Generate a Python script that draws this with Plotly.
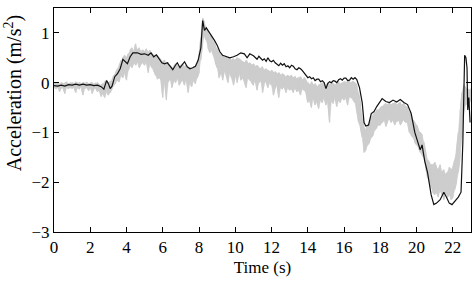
import plotly.graph_objects as go

# ---- data ----
black_t = [0.0, 0.2, 0.4, 0.6, 0.8, 1.0, 1.2, 1.4, 1.6, 1.8, 2.0, 2.2, 2.4, 2.6, 2.75, 2.9, 3.0, 3.1, 3.2,
           3.35, 3.5, 3.65, 3.8, 3.95, 4.05, 4.2, 4.35, 4.6, 4.8, 5.0, 5.2, 5.35, 5.5, 5.65, 5.8, 5.95,
           6.1, 6.25, 6.4, 6.55, 6.7, 6.8, 6.95, 7.1, 7.2, 7.35, 7.5, 7.65, 7.8, 7.95, 8.1, 8.2, 8.3,
           8.4, 8.55, 8.7, 8.85, 9.0, 9.15, 9.3, 9.5, 9.7, 9.9, 10.1, 10.3, 10.5, 10.65, 10.8, 11.0,
           11.1, 11.2, 11.3, 11.4, 11.5, 11.6, 11.7, 11.8, 11.9, 12.0, 12.1, 12.2, 12.3, 12.4, 12.5,
           12.6, 12.7, 12.8, 12.9, 13.0, 13.1, 13.2, 13.3, 13.4, 13.5, 13.6, 13.7, 13.8, 13.9, 14.0,
           14.1, 14.2, 14.3, 14.4, 14.5, 14.6, 14.7, 14.8, 14.9, 15.0, 15.1, 15.2, 15.3, 15.4, 15.5,
           15.6, 15.7, 15.8, 15.9, 16.0, 16.1, 16.2, 16.3, 16.4, 16.5, 16.6, 16.7, 16.85,
           17.0, 17.1, 17.2, 17.35, 17.5, 17.65, 17.8, 18.0, 18.1, 18.3, 18.5, 18.7, 18.9, 19.1, 19.3,
           19.5, 19.7, 19.9, 20.05, 20.2, 20.3, 20.45, 20.6, 20.8, 20.95, 21.1, 21.3, 21.5, 21.65,
           21.8, 21.95, 22.1, 22.3, 22.45, 22.55, 22.65, 22.72, 22.78, 22.82, 22.88, 22.95]
black_y = [-0.06, -0.07, -0.05, -0.07, -0.04, -0.05, -0.03, -0.05, -0.03, -0.05, -0.04, -0.06, -0.05,
           -0.08, -0.13, 0.04, -0.02, -0.12, -0.07, 0.12, 0.18, 0.28, 0.47, 0.42, 0.38, 0.52, 0.6,
           0.6, 0.57, 0.58, 0.55, 0.6, 0.52, 0.56, 0.48, 0.4, 0.38, 0.4, 0.33, 0.26, 0.35, 0.4, 0.3,
           0.37, 0.42, 0.32, 0.28, 0.3, 0.33, 0.45, 0.7, 1.25, 1.05, 1.1, 1.02, 0.93, 0.85, 0.75,
           0.62, 0.55, 0.52, 0.5, 0.52, 0.55, 0.6, 0.58, 0.5, 0.58, 0.54,
           0.5, 0.47, 0.53, 0.49, 0.45, 0.48, 0.43, 0.5, 0.44, 0.42, 0.45, 0.4, 0.36, 0.34, 0.39,
           0.35, 0.38, 0.32, 0.34, 0.3, 0.35, 0.33, 0.28, 0.26, 0.3, 0.28, 0.24, 0.2, 0.16, 0.1,
           0.12, 0.08, 0.1, 0.04, 0.07, 0.07, 0.02, 0.04, 0.0, -0.12, -0.02, 0.02, 0.0, 0.04, 0.03,
           0.0, 0.06, 0.08, 0.05, 0.09, 0.09, 0.04, 0.05, 0.1, 0.07, 0.1, 0.06, -0.1,
           -0.4, -0.8, -0.87, -0.85, -0.62, -0.58, -0.48, -0.38, -0.32, -0.38, -0.4, -0.35, -0.39,
           -0.34, -0.4, -0.44, -0.62, -1.0, -1.2, -1.35, -1.25, -1.58, -1.8, -2.25, -2.45, -2.42,
           -2.35, -2.2, -2.3, -2.42, -2.45, -2.38, -2.3, -2.2, -1.2, 0.55, 0.5, 0.3, -0.55, -0.3, -0.8]

gray_t = [round(i * 0.1, 1) for i in range(231)]
gray_hi = [
    -0.02, 0.00, -0.01, -0.03, 0.00, -0.02, -0.01, 0.01, -0.02, -0.01,
    0.00, -0.02, 0.01, -0.01, 0.00, -0.02, 0.00, -0.01, 0.01, -0.02,
    -0.01, 0.00, -0.03, -0.01, 0.00, -0.04, -0.05, -0.02, 0.02, 0.05,
    0.00, 0.02, 0.05, 0.15, 0.20, 0.28, 0.35, 0.45, 0.50, 0.55,
    0.50, 0.58, 0.65, 0.70, 0.62, 0.78, 0.65, 0.70, 0.62, 0.66,
    0.62, 0.68, 0.60, 0.65, 0.58, 0.55, 0.52, 0.55, 0.50, 0.45,
    0.42, 0.45, 0.38, 0.40, 0.35, 0.30, 0.32, 0.38, 0.35, 0.30,
    0.35, 0.38, 0.32, 0.35, 0.28, 0.30, 0.25, 0.32, 0.30, 0.40,
    0.55, 0.90, 1.30, 1.20, 1.10, 1.00, 0.95, 0.90, 0.82, 0.75,
    0.68, 0.60, 0.58, 0.55, 0.50, 0.52, 0.48, 0.50, 0.45, 0.48,
    0.45, 0.50, 0.48, 0.45, 0.42, 0.40, 0.45, 0.38, 0.40, 0.35,
    0.38, 0.32, 0.35, 0.30, 0.28, 0.32, 0.25, 0.28, 0.25, 0.22,
    0.25, 0.20, 0.22, 0.18, 0.20, 0.15, 0.18, 0.15, 0.12, 0.15,
    0.12, 0.15, 0.10, 0.12, 0.08, 0.10, 0.12, 0.05, 0.10, 0.05,
    0.00, -0.05, 0.02, -0.05, -0.02, -0.08, -0.05, -0.03, 0.00, -0.05,
    -0.08, 0.00, -0.05, 0.02, -0.02, -0.05, 0.00, 0.02, -0.03, 0.00,
    0.02, 0.00, 0.05, 0.02, 0.00, 0.03, 0.00, -0.05, -0.20, -0.40,
    -0.70, -0.90, -0.95, -0.85, -0.80, -0.70, -0.65, -0.60, -0.55, -0.55,
    -0.50, -0.48, -0.45, -0.42, -0.45, -0.40, -0.45, -0.42, -0.40, -0.45,
    -0.42, -0.40, -0.45, -0.42, -0.48, -0.50, -0.60, -0.68, -0.75, -0.80,
    -0.85, -0.95, -1.00, -1.05, -1.20, -1.40, -1.55, -1.60, -1.65, -1.65,
    -1.60, -1.70, -1.75, -1.65, -1.80, -1.75, -1.85, -1.80, -1.70, -1.75,
    -1.70, -1.55, -1.35, -1.00, -0.60, -0.20, -0.05, -0.10, -0.12, -0.15,
    -0.12]
gray_lo = [
    -0.10, -0.12, -0.09, -0.18, -0.10, -0.11, -0.22, -0.09, -0.12, -0.10,
    -0.11, -0.09, -0.20, -0.10, -0.12, -0.09, -0.25, -0.11, -0.10, -0.16,
    -0.10, -0.22, -0.12, -0.11, -0.18, -0.15, -0.28, -0.22, -0.30, -0.18,
    -0.25, -0.20, -0.12, -0.05, 0.00, 0.05, 0.02, 0.15, 0.10, 0.20,
    0.05, 0.25, 0.35, 0.30, 0.40, 0.35, 0.42, 0.30, 0.38, 0.40,
    0.35, 0.42, 0.20, 0.38, 0.30, 0.25, 0.15, 0.08, 0.10, 0.05,
    -0.30, 0.05, -0.35, 0.02, 0.08, -0.10, 0.05, 0.00, 0.10, -0.05,
    0.02, 0.05, -0.05, 0.08, -0.20, 0.00, -0.08, 0.05, -0.02, 0.10,
    0.20, 0.45, 0.80, 0.95, 0.85, 0.70, 0.60, 0.65, 0.55, 0.40,
    0.30, 0.10, 0.20, 0.05, 0.25, 0.15, 0.00, 0.20, 0.10, -0.05,
    0.15, 0.00, 0.20, 0.05, 0.10, 0.02, -0.10, 0.10, 0.05, 0.00,
    -0.05, 0.05, -0.15, 0.00, 0.05, -0.20, 0.00, 0.02, -0.10, 0.00,
    -0.05, -0.25, -0.10, -0.05, -0.30, -0.10, -0.12, -0.08, -0.20, -0.10,
    -0.15, -0.12, -0.20, -0.10, -0.18, -0.15, -0.25, -0.12, -0.15, -0.20,
    -0.40, -0.35, -0.50, -0.30, -0.45, -0.38, -0.52, -0.35, -0.40, -0.30,
    -0.45, -0.38, -0.80, -0.35, -0.42, -0.30, -0.48, -0.35, -0.40, -0.30,
    -0.35, -0.30, -0.45, -0.28, -0.30, -0.35, -0.40, -0.55, -0.80, -0.90,
    -1.10, -1.40, -1.35, -1.25, -1.20, -1.10, -1.05, -0.95, -0.90, -0.85,
    -0.85, -0.80, -0.75, -0.88, -0.78, -0.72, -0.80, -0.75, -0.85, -0.78,
    -0.75, -0.85, -0.78, -0.75, -0.80, -0.80, -1.00, -1.05, -1.10, -1.20,
    -1.25, -1.30, -1.40, -1.45, -1.50, -1.70, -1.90, -2.00, -2.10, -2.20,
    -2.25, -2.20, -2.30, -2.15, -2.25, -2.35, -2.20, -2.30, -2.25, -2.35,
    -2.30, -2.15, -2.00, -1.80, -1.50, -1.10, -0.60, -0.45, -0.40, -0.42,
    -0.32]

x_ticks = [0, 2, 4, 6, 8, 10, 12, 14, 16, 18, 20, 22]
y_ticks = [-3, -2, -1, 0, 1]
y_tick_text = ["\u22123", "\u22122", "\u22121", "0", "1"]

# zig-zag through the gray envelope (vertical strokes at each sample)
zx, zy = [], []
for i, t in enumerate(gray_t):
    a, b = (gray_lo[i], gray_hi[i]) if i % 2 == 0 else (gray_hi[i], gray_lo[i])
    zx += [t, t]
    zy += [a, b]

# filled core of the gray band
band_x = gray_t + gray_t[::-1]
band_y = gray_hi + gray_lo[::-1]

font = "Liberation Serif, Times New Roman, serif"
GRAY = "#cdcdcd"

fig = go.Figure()
fig.add_trace(go.Scatter(x=band_x, y=band_y, mode="lines", fill="toself", fillcolor=GRAY,
                         line=dict(color=GRAY, width=0.5), hoverinfo="skip"))
fig.add_trace(go.Scatter(x=zx, y=zy, mode="lines",
                         line=dict(color=GRAY, width=1.2), hoverinfo="skip"))
fig.add_trace(go.Scatter(x=black_t, y=black_y, mode="lines",
                         line=dict(color="#111111", width=1.2)))

axis_common = dict(showline=True, linecolor="black", linewidth=1, mirror="allticks",
                   ticks="inside", ticklen=5, tickcolor="black", showgrid=False,
                   zeroline=False, tickfont=dict(family=font, size=17, color="black"))
fig.update_xaxes(range=[0, 23], tickvals=x_ticks, ticktext=[str(v) for v in x_ticks],
                 title=dict(text="Time (s)", font=dict(family=font, size=17, color="black"),
                            standoff=4),
                 **axis_common)
fig.update_yaxes(range=[-3, 1.5], tickvals=y_ticks, ticktext=y_tick_text, **axis_common)
fig.add_annotation(text="Acceleration (m/s<sup>2</sup>)", xref="paper", yref="paper",
                   x=-0.098, y=0.62, xanchor="center", yanchor="middle", textangle=-90,
                   showarrow=False, font=dict(family=font, size=20, color="black"))
fig.update_layout(width=475, height=282, margin=dict(l=54, r=4, t=8, b=50),
                  paper_bgcolor="white", plot_bgcolor="white", showlegend=False)
fig.write_html("out.html")
